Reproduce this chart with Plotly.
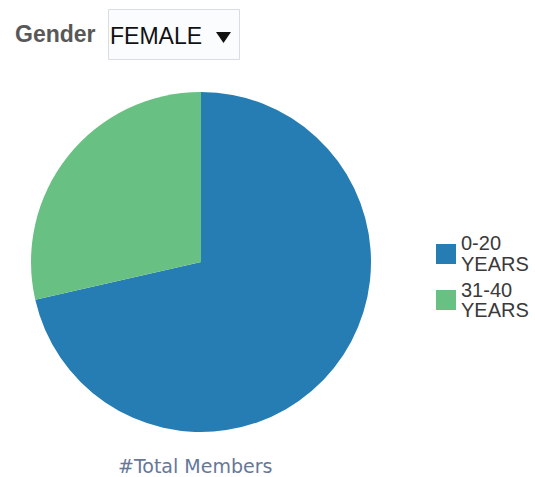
import plotly.graph_objects as go

# Member counts by age band for the selected gender
age_bands = ["0-20 YEARS", "31-40 YEARS"]
members = [5, 2]
band_colors = ["#267db3", "#68c182"]
selected_gender = "FEMALE"

W, H = 535, 477


def px(x):
    return x / W


def py(y):
    return 1 - y / H


fig = go.Figure(
    go.Pie(
        labels=age_bands,
        values=members,
        marker=dict(colors=band_colors, line=dict(width=0)),
        sort=False,
        direction="clockwise",
        rotation=0,
        textinfo="none",
        hoverinfo="label+value",
        showlegend=False,
        domain=dict(x=[px(31), px(371)], y=[py(432), py(92)]),
    )
)

SANS = "Liberation Sans, Arial, sans-serif"

# Gender selector label and drop-down box
fig.add_annotation(
    x=px(13), y=py(34), xref="paper", yref="paper",
    xanchor="left", yanchor="middle", showarrow=False,
    text="<b>Gender</b>", font=dict(family=SANS, size=23, color="#585858"),
)
fig.add_shape(
    type="rect", xref="paper", yref="paper",
    x0=px(108.5), x1=px(239.5), y0=py(9.5), y1=py(59.5),
    line=dict(color="#d9dde3", width=1), fillcolor="#fbfcfe",
)
fig.add_annotation(
    x=px(108), y=py(36), xref="paper", yref="paper",
    xanchor="left", yanchor="middle", showarrow=False,
    text=selected_gender, font=dict(family=SANS, size=23, color="#111111"),
)
fig.add_shape(
    type="path", xref="paper", yref="paper",
    path=f"M {px(216)},{py(32)} L {px(231)},{py(32)} L {px(223.5)},{py(43)} Z",
    line=dict(width=0), fillcolor="#111111",
)

# Legend: colour key with the band label split over two lines
item_tops = [244, 290]
for label, color, top in zip(age_bands, band_colors, item_tops):
    fig.add_shape(
        type="rect", xref="paper", yref="paper",
        x0=px(436), x1=px(456), y0=py(top), y1=py(top + 20),
        line=dict(width=0), fillcolor=color,
    )
    first, second = label.split(" ", 1)
    for k, part in enumerate([first, second]):
        fig.add_annotation(
            x=px(459), y=py(top - 0.5 + 20.5 * k), xref="paper", yref="paper",
            xanchor="left", yanchor="middle", showarrow=False,
            text=part, font=dict(family=SANS, size=20, color="#3a3a3a"),
        )

# Measure caption below the pie
fig.add_annotation(
    x=px(195), y=py(466), xref="paper", yref="paper",
    xanchor="center", yanchor="middle", showarrow=False,
    text="#Total Members", font=dict(family="DejaVu Sans, Verdana, sans-serif", size=19, color="#66779a"),
)

fig.update_layout(
    width=W, height=H,
    margin=dict(l=0, r=0, t=0, b=0),
    paper_bgcolor="white",
    plot_bgcolor="white",
)

fig.write_html("out.html")
